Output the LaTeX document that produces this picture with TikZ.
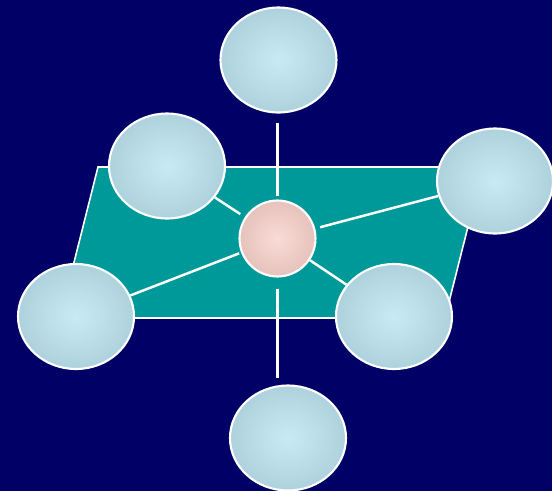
\documentclass[tikz,border=0pt]{standalone}
\usepackage{tikz}
\usetikzlibrary{shapes.geometric}

\definecolor{navybg}{RGB}{0,0,102}
\definecolor{tealplane}{RGB}{0,153,153}
\definecolor{bluein}{RGB}{200,234,243}
\definecolor{blueout}{RGB}{174,210,221}
\definecolor{pinkin}{RGB}{248,220,214}
\definecolor{pinkout}{RGB}{230,194,188}

\begin{document}
\begin{tikzpicture}[
  x=0.02cm, y=-0.02cm,
  blob/.style = {ellipse, draw=white, line width=1.2pt, inner sep=0pt,
                 minimum width=2.32cm, minimum height=2.1cm,
                 shading=radial, inner color=bluein, outer color=blueout},
  hub/.style  = {circle, draw=white, line width=1.2pt, inner sep=0pt,
                 minimum size=1.52cm,
                 shading=radial, inner color=pinkin, outer color=pinkout},
  link/.style = {white, line width=1.4pt},
]

%% ── Background and plane ───────────────────────────────────────────────────
\useasboundingbox (0,0) rectangle (552,491);
\fill[navybg] (0,0) rectangle (552,491);
\draw[white, line width=0.9pt, fill=tealplane]
  (98,167) -- (483,167) -- (445,318) -- (60,318) -- cycle;

%% ── Nodes ───────────────────────────────────────────────────────────────────
\node[hub]  (hub) at (277.5,238.5) {};
\node[blob] (top) at (278.5,60)    {};
\node[blob] (ul)  at (167,166)     {};
\node[blob] (rt)  at (495,181)     {};
\node[blob] (lt)  at (76,316.5)    {};
\node[blob] (lr)  at (394,316.5)   {};
\node[blob] (bot) at (288,438)     {};

%% ── Links ───────────────────────────────────────────────────────────────────
\draw[link, shorten <=0.06cm, shorten >=0.18cm] (hub) -- (hub |- top.south);
\draw[link, shorten <=0.22cm, shorten >=0.12cm] (hub) -- (hub |- bot.north);
\draw[link, shorten <=0.11cm] (hub) -- (ul);
\draw[link, shorten <=0.10cm] (hub) -- (rt);
\draw[link, shorten <=0.04cm] (hub) -- (lt);
\draw[link] (hub) -- (lr);

\end{tikzpicture}
\end{document}
